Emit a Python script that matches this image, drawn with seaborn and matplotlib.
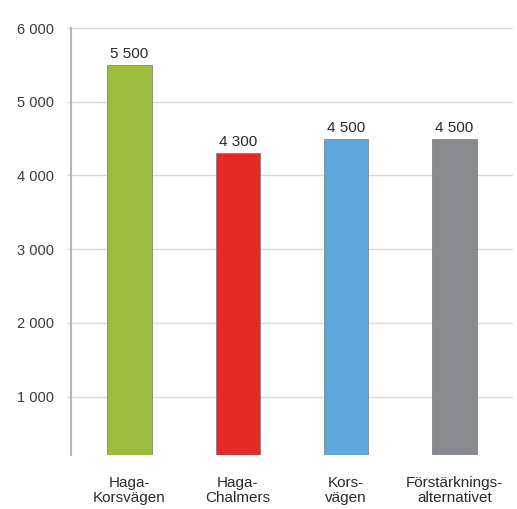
import matplotlib
matplotlib.use("Agg")
import matplotlib.pyplot as plt
import seaborn as sns
import pandas as pd
from matplotlib.ticker import FuncFormatter

alternatives = ["Haga-\nKorsvägen", "Haga-\nChalmers", "Kors-\nvägen", "Förstärknings-\nalternativet"]
values = [5500, 4300, 4500, 4500]
colors = ["#9BBD3B", "#E42A26", "#5CA8DA", "#878A8F"]
yticks = [1000, 2000, 3000, 4000, 5000, 6000]

sns.set_theme(style="white")
plt.rcParams["font.family"] = ["Liberation Sans Narrow", "Liberation Sans", "DejaVu Sans"]

df = pd.DataFrame({"alt": alternatives, "val": values})

fig = plt.figure(figsize=(5.17, 5.09), dpi=100)
ax = fig.add_axes([71 / 517, 1 - 455 / 509, (513 - 71) / 517, (455 - 28) / 509])

sns.barplot(data=df, x="alt", y="val", hue="alt", palette=colors, legend=False,
            saturation=1, width=0.41, ax=ax, edgecolor="#777777", linewidth=0.5, zorder=3)

ax.set_ylim(210, 6000)
ax.set_xlim(-0.54, 3.54)
ax.set_yticks(yticks)
ax.yaxis.set_major_formatter(FuncFormatter(lambda v, p: f"{int(v):,}".replace(",", " ")))
ax.grid(axis="y", color="#d9d9d9", linewidth=1.0, zorder=0)
ax.set_xlabel("")
ax.set_ylabel("")

for s in ["top", "right", "bottom"]:
    ax.spines[s].set_visible(False)
ax.spines["left"].set_color("#b5b5b5")
ax.spines["left"].set_linewidth(1.5)

ax.tick_params(axis="y", left=True, length=3, width=0.8, color="#d0d0d0",
               labelsize=10.5, labelcolor="#3a3a3a", pad=9)
ax.tick_params(axis="x", bottom=False, labelsize=11, labelcolor="#2a2a2a", pad=9)
for lbl in ax.get_xticklabels():
    lbl.set_linespacing(1.15)

for i, v in enumerate(values):
    ax.text(i, v + 55, f"{v:,}".replace(",", " "), ha="center", va="bottom",
            fontsize=11, color="#2a2a2a")

fig.savefig("out.png", dpi=100)
